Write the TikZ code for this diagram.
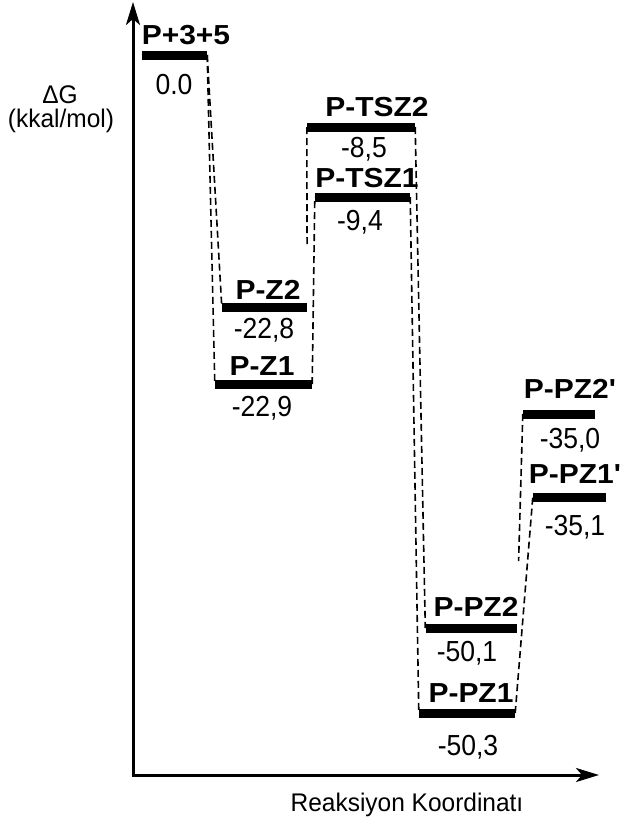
\documentclass[tikz,border=0pt]{standalone}
\usepackage{fontspec}
\setmainfont{Liberation Sans}[FakeStretch=0.915]
\newfontfamily\speciesfont{Liberation Sans}[FakeStretch=1.09]
\newfontfamily\axisfont{Liberation Sans}[FakeStretch=0.96]
\usetikzlibrary{arrows.meta}
\tikzset{
  energybar/.style={rectangle, fill=black, inner sep=0pt, minimum height=9pt},
  species/.style={font=\fontsize{27.5}{32}\speciesfont\bfseries, inner sep=0pt, anchor=base},
  energy/.style={font=\fontsize{29}{34}\selectfont, inner sep=0pt, anchor=base},
  axislabel/.style={font=\fontsize{25.5}{30}\axisfont, inner sep=0pt, anchor=base},
  rxpath/.style={dash pattern=on 7pt off 4pt, line width=1.6pt},
  axisline/.style={line width=3pt, -{Stealth[length=23pt,width=14pt,inset=6pt]}}
}
\begin{document}
\begin{tikzpicture}[x=1pt,y=-1pt]
\useasboundingbox (0,0) rectangle (634,820);

% axes
\coordinate (o) at (133,775);
\coordinate (ytop) at (133,2);
\coordinate (xend) at (599,775);
\draw[axisline] (o) -- (ytop);
\draw[axisline] ([xshift=-1.5pt]o) -- (xend);
\node[axislabel] (ylab1) at (60,103) {ΔG};
\node[axislabel] (ylab2) at (61,127) {(kkal/mol)};
\node[axislabel] (xlab) at (407,811) {Reaksiyon Koordinatı};

% energy levels
\node[energybar, minimum width=65pt] (r)    at (174.5,55) {};
\node[energybar, minimum width=85pt] (z2)   at (264.5,307) {};
\node[energybar, minimum width=97pt] (z1)   at (263.5,384) {};
\node[energybar, minimum width=108pt] (tsz2) at (361,127) {};
\node[energybar, minimum width=95pt] (tsz1) at (362.5,197) {};
\node[energybar, minimum width=91pt] (pz2)  at (471,628) {};
\node[energybar, minimum width=96pt] (pz1)  at (467,713) {};
\node[energybar, minimum width=72pt] (pz2p) at (559,414) {};
\node[energybar, minimum width=73pt] (pz1p) at (569.5,497) {};

% species names
\node[species] (nr)    at (186,44) {P+3+5};
\node[species] (nz2)   at (268,299)  {P-Z2};
\node[species] (nz1)   at (262,375)  {P-Z1};
\node[species] (ntsz2) at (377,116.5) {P-TSZ2};
\node[species] (ntsz1) at (367,187)  {P-TSZ1};
\node[species] (npz2)  at (476,616.5) {P-PZ2};
\node[species] (npz1)  at (471,702)  {P-PZ1};
\node[species] (npz2p) at (570,398)  {P-PZ2'};
\node[species] (npz1p) at (575,483)  {P-PZ1'};

% free energies
\node[energy] (vr)    at (174,94)  {0.0};
\node[energy] (vz2)   at (264,338) {-22,8};
\node[energy] (vz1)   at (262,416) {-22,9};
\node[energy] (vtsz2) at (364,157) {-8,5};
\node[energy] (vtsz1) at (360,230) {-9,4};
\node[energy] (vpz2)  at (467,661.5) {-50,1};
\node[energy] (vpz1)  at (468,755) {-50,3};
\node[energy] (vpz2p) at (570,448) {-35,0};
\node[energy] (vpz1p) at (575,535) {-35,1};

% reaction paths
\draw[rxpath] (r.east) -- (z2.west);
\draw[rxpath] (r.east) -- (z1.west);
\draw[rxpath, shorten >=62pt] (tsz2.west) -- (z2.east);
\draw[rxpath] (z1.east) -- (tsz1.west);
\draw[rxpath] (tsz2.east) -- (pz2.west);
\draw[rxpath] (tsz1.east) -- (pz1.west);
\draw[rxpath, shorten >=67pt] (pz2p.west) -- (pz2.east);
\draw[rxpath] (pz1.east) -- (pz1p.west);
\end{tikzpicture}
\end{document}
